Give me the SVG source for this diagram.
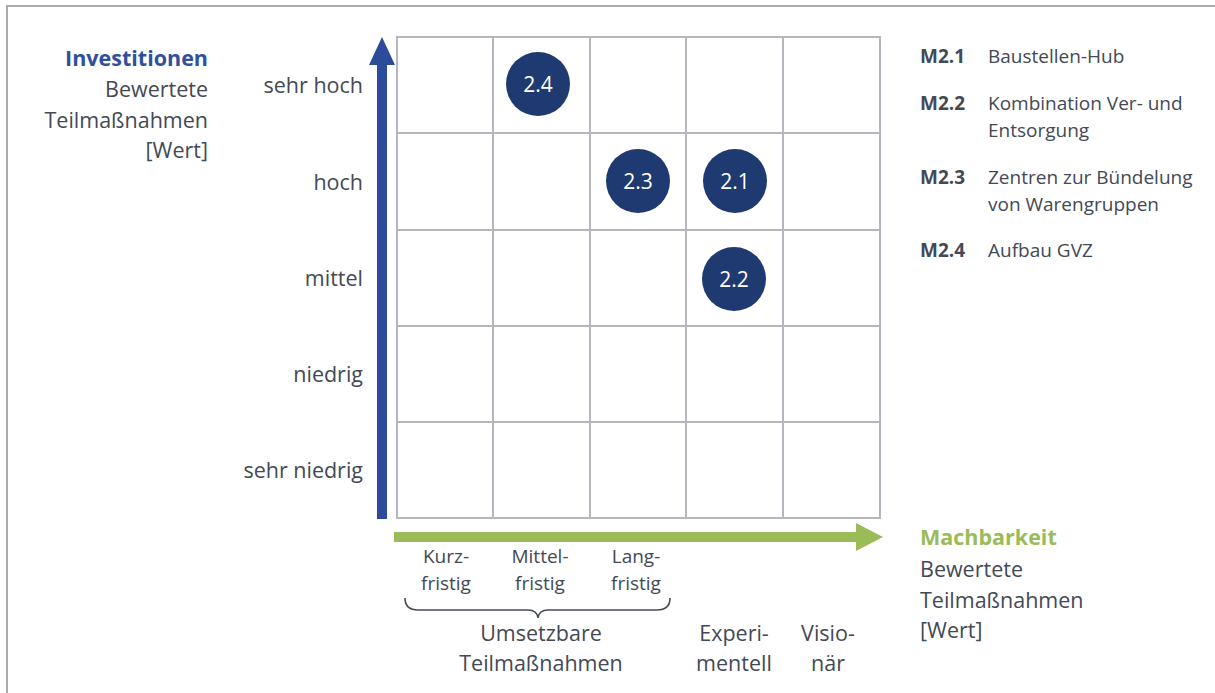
<svg xmlns="http://www.w3.org/2000/svg" width="1215" height="693" viewBox="0 0 1215 693">
<style>
text{font-family:"Open Sans","Noto Sans","Liberation Sans",sans-serif;fill:#434955}
.lbl{font-size:21.5px}
.sm{font-size:19px}
.r{text-anchor:end}
.m{text-anchor:middle}
.b{font-weight:bold}
.grid line{stroke:#b4b8be;stroke-width:2}
.node circle{fill:#1f3a70}
.node text{fill:#ffffff;font-size:21px;text-anchor:middle}
</style>
<rect x="0" y="0" width="1215" height="693" fill="#ffffff"/>
<path d="M7,693 V6 H1215" fill="none" stroke="#ababab" stroke-width="2"/>
<g id="grid" class="grid">
<rect x="397" y="37" width="483" height="481" fill="#ffffff" stroke="#b4b8be" stroke-width="2"/>
<line x1="493" y1="37" x2="493" y2="518"/>
<line x1="590" y1="37" x2="590" y2="518"/>
<line x1="686" y1="37" x2="686" y2="518"/>
<line x1="783" y1="37" x2="783" y2="518"/>
<line x1="397" y1="133" x2="880" y2="133"/>
<line x1="397" y1="230" x2="880" y2="230"/>
<line x1="397" y1="326" x2="880" y2="326"/>
<line x1="397" y1="422" x2="880" y2="422"/>
</g>
<g id="connectors">
<polygon id="y-axis" points="377,519 387,519 387,65 395,65 382,37 369,65 377,65" fill="#2c4b9a"/>
<polygon id="x-axis" points="394,532 856,532 856,523 883,537 856,551 856,542 394,542" fill="#9bbb59"/>
<path id="brace" d="M405,598 Q405,610 418,610 H528 Q537,610 538,618 Q539,610 548,610 H657 Q670,610 670,598" fill="none" stroke="#464c57" stroke-width="1.6"/>
</g>
<g id="y-title">
<text class="lbl b r" x="208" y="66" style="fill:#2f4f9f">Investitionen</text>
<text class="lbl r" x="208" y="97">Bewertete</text>
<text class="lbl r" x="208" y="128">Teilmaßnahmen</text>
<text class="lbl r" x="208" y="158">[Wert]</text>
</g>
<g id="y-labels">
<text class="lbl r" x="363" y="93">sehr hoch</text>
<text class="lbl r" x="363" y="190">hoch</text>
<text class="lbl r" x="363" y="286">mittel</text>
<text class="lbl r" x="363" y="382">niedrig</text>
<text class="lbl r" x="363" y="478">sehr niedrig</text>
</g>
<g id="node-2-4" class="node"><circle cx="538" cy="84" r="32"/><text x="538" y="92">2.4</text></g>
<g id="node-2-3" class="node"><circle cx="638" cy="181" r="32"/><text x="638" y="189">2.3</text></g>
<g id="node-2-1" class="node"><circle cx="735" cy="181" r="32"/><text x="735" y="189">2.1</text></g>
<g id="node-2-2" class="node"><circle cx="734" cy="279" r="32"/><text x="734" y="287">2.2</text></g>
<g id="legend">
<text class="sm b" x="920" y="63">M2.1</text><text class="sm" x="988" y="63">Baustellen-Hub</text>
<text class="sm b" x="920" y="110">M2.2</text><text class="sm" x="988" y="110">Kombination Ver- und</text>
<text class="sm" x="988" y="137">Entsorgung</text>
<text class="sm b" x="920" y="184">M2.3</text><text class="sm" x="988" y="184">Zentren zur Bündelung</text>
<text class="sm" x="988" y="211">von Warengruppen</text>
<text class="sm b" x="920" y="257">M2.4</text><text class="sm" x="988" y="257">Aufbau GVZ</text>
</g>
<g id="x-labels">
<text class="sm m" x="446" y="563">Kurz-</text><text class="sm m" x="446" y="590">fristig</text>
<text class="sm m" x="540" y="563">Mittel-</text><text class="sm m" x="540" y="590">fristig</text>
<text class="sm m" x="636" y="563">Lang-</text><text class="sm m" x="636" y="590">fristig</text>
<text class="lbl m" x="541" y="641">Umsetzbare</text>
<text class="lbl m" x="541" y="671">Teilmaßnahmen</text>
<text class="lbl m" x="734" y="641">Experi-</text>
<text class="lbl m" x="734" y="671">mentell</text>
<text class="lbl m" x="828" y="641">Visio-</text>
<text class="lbl m" x="828" y="671">när</text>
</g>
<g id="x-title">
<text class="lbl b" x="920" y="545" style="fill:#9bbb59">Machbarkeit</text>
<text class="lbl" x="920" y="577">Bewertete</text>
<text class="lbl" x="920" y="608">Teilmaßnahmen</text>
<text class="lbl" x="920" y="638">[Wert]</text>
</g>
</svg>
